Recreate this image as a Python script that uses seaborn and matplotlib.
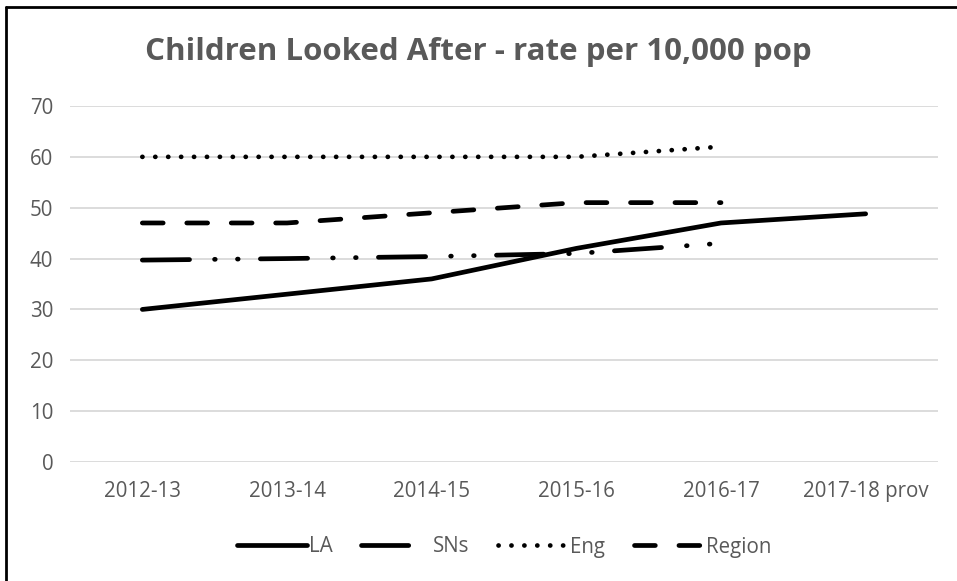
import pandas as pd
import seaborn as sns
import matplotlib.pyplot as plt
from matplotlib.lines import Line2D

years = ['2012-13', '2013-14', '2014-15', '2015-16', '2016-17', '2017-18 prov']
la = [30, 33, 36, 42, 47, 48.8]
sns_vals = [39.7, 40, 40.4, 41, 43]
eng = [60, 60, 60, 60, 62]
region = [47, 47, 49, 51, 51]

sns.set_style('white')
plt.rcParams['font.family'] = ['Open Sans', 'DejaVu Sans']
plt.rcParams['lines.scale_dashes'] = False

grey = '#595959'
fig = plt.figure(figsize=(9.57, 5.81), dpi=100)
ax = fig.add_axes([70 / 957, 1 - 462 / 581, 868 / 957, 356 / 581])

lw = 3.4
series = [
    ('LA', years, la, '-'),
    ('SNs', years[:5], sns_vals, (0, (34, 18, 0.5, 16, 0.5, 16))),
    ('Eng', years[:5], eng, (0, (0.1, 9.2))),
    ('Region', years[:5], region, (0, (15, 17))),
]
for name, x, y, ls in series:
    sns.lineplot(x=x, y=y, ax=ax, color='black', lw=lw, linestyle=ls,
                 dash_capstyle='round', solid_capstyle='round', label=name, sort=False)

ax.set_xlim(-0.5, 5.5)
ax.set_ylim(0, 70)
ax.set_yticks(range(0, 71, 10))
ax.yaxis.grid(True, color='#d9d9d9', lw=1.3)
ax.xaxis.grid(False)
for s in ax.spines.values():
    s.set_visible(False)
ax.tick_params(axis='both', length=0, labelsize=14.8, labelcolor=grey)
ax.tick_params(axis='x', pad=14)
ax.tick_params(axis='y', pad=12)
ax.set_xlabel('')
ax.set_ylabel('')

fig.text(0.5, 1 - 52 / 581, 'Children Looked After - rate per 10,000 pop',
         ha='center', va='center', fontsize=22.5, fontweight='bold', color=grey)

ax.legend(loc='center', bbox_to_anchor=(0.5, -(547 - 462) / 356), ncol=4,
          frameon=False, fontsize=14.8, labelcolor=grey, handlelength=3.4,
          handletextpad=0.1, columnspacing=1.4)

# border: top and left edges only
fig.lines.append(Line2D([6 / 957, 1], [1 - 7 / 581, 1 - 7 / 581],
                        transform=fig.transFigure, color='black', lw=2))
fig.lines.append(Line2D([6 / 957, 6 / 957], [0, 1 - 7 / 581],
                        transform=fig.transFigure, color='black', lw=2))

fig.savefig('out.png', dpi=100)
